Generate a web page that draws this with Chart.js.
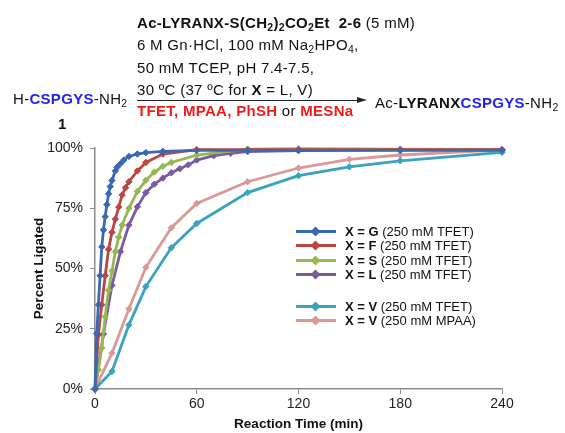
<!DOCTYPE html>
<html>
<head>
<meta charset="utf-8">
<script src="https://cdn.jsdelivr.net/npm/chart.js@4/dist/chart.umd.min.js"></script>
<style>
    html, body { margin: 0; padding: 0; background: #fff; }
    body { width: 565px; height: 433px; position: relative; overflow: hidden; font-family: Arial, "Liberation Sans", sans-serif; color: #111; }
    #chart { position: absolute; left: 0; top: 0; }
    .t { position: absolute; white-space: nowrap; font-size: 15px; line-height: 1; letter-spacing: 0.3px; }
    .t sub { font-size: 10.5px; vertical-align: -3px; line-height: 0; }
    .b { font-weight: bold; }
    .blue { color: #2424f0; font-weight: bold; }
    .red { color: #f01c1c; font-weight: bold; }
    #arrow { position: absolute; left: 137px; top: 100px; width: 222px; height: 1px; background: #222; }
    #arrowhead { position: absolute; left: 357px; top: 97px; width: 0; height: 0;
        border-top: 3.5px solid transparent; border-bottom: 3.5px solid transparent; border-left: 10px solid #222; }
    .leg { position: absolute; left: 296px; font-size: 13px; white-space: nowrap; }
    .leg .ln { position: absolute; left: 0; width: 40px; height: 3px; }
    .leg .mk { position: absolute; left: 16px; width: 7px; height: 7px; transform: rotate(45deg); }
    .leg .tx { position: absolute; left: 49px; line-height: 1; }
</style>
</head>
<body>
<canvas id="chart" width="565" height="433"></canvas>

<!-- reaction scheme -->
<div class="t" style="left:137px; top:15px;"><span class="b">Ac-LYRANX-S(CH<sub>2</sub>)<sub>2</sub>CO<sub>2</sub>Et&nbsp; 2-6</span> (5 mM)</div>
<div class="t" style="left:137px; top:37px;">6 M Gn&middot;HCl, 100 mM Na<sub>2</sub>HPO<sub>4</sub>,</div>
<div class="t" style="left:137px; top:60px;">50 mM TCEP, pH 7.4-7.5,</div>
<div class="t" style="left:137px; top:82px;">30 ºC (37 ºC for <span class="b">X</span> = L, V)</div>
<div id="arrow"></div><div id="arrowhead"></div>
<div class="t" style="left:13px; top:91px;">H-<span class="blue">CSPGYS</span>-NH<sub>2</sub></div>
<div class="t b" style="left:58px; top:116px;">1</div>
<div class="t" style="left:137px; top:103px;"><span class="red">TFET, MPAA, PhSH</span> or <span class="red">MESNa</span></div>
<div class="t" style="left:375px; top:95px;">Ac-<span class="b">LYRANX</span><span class="blue">CSPGYS</span>-NH<sub>2</sub></div>

<div id="legend"></div>

<script>
// reaction time (min) and percent ligated for each thioester
const timeG = [0, 1, 2, 3, 4, 5, 6, 7, 8, 9, 10, 12, 13, 15, 17, 20, 25, 30, 40, 60, 90, 120, 180, 240];
const pctG  = [0, 23, 35, 47, 59, 66, 71.5, 76.5, 81, 84, 86.5, 90.5, 92, 93.5, 95, 96.5, 97.5, 98.1, 98.6, 99, 99, 99, 99, 99];

const timeF = [0, 2, 4, 6, 8, 10, 12, 14, 16, 18, 20, 25, 30, 40, 60, 90, 120, 180, 240];
const pctF  = [0, 22.5, 35, 47, 58, 65, 70.5, 75.5, 80.5, 83.5, 86, 90.5, 94, 97.5, 99.3, 99.3, 99.3, 99.3, 99.3];

const timeS = [0, 2, 4, 6, 8, 10, 12, 14, 16, 20, 25, 30, 35, 40, 45, 60, 90, 120, 180, 240];
const pctS  = [0, 8, 17, 30, 41, 49, 57, 63, 68, 75, 82, 86.6, 90, 92.4, 94, 97, 99.5, 99.7, 99.5, 99.3];

const timeL = [0, 5, 10, 15, 20, 25, 30, 35, 40, 45, 50, 55, 60, 70, 80, 90, 120, 180, 240];
const pctL  = [0, 22.8, 43, 57, 68, 75.6, 81.5, 85, 87.5, 89.7, 91.4, 93, 95, 96.8, 97.8, 98.5, 98.9, 99.2, 99.3];

const timeV = [0, 10, 20, 30, 45, 60, 90, 120, 150, 180, 240];
const pctV_TFET = [0, 7.3, 26.6, 42.5, 58.6, 68.7, 81.5, 88.5, 92.2, 94.7, 98.2];
const pctV_MPAA = [0, 14.9, 33.2, 50.5, 66.9, 77, 86, 91.7, 95.3, 97.1, 99.2];

const xTicks = [0, 60, 120, 180, 240];
const yTicks = [0, 25, 50, 75, 100];

const seriesNames = ['X = G', 'X = F', 'X = S', 'X = L', 'X = V', 'X = V'];
const seriesConds = ['(250 mM TFET)', '(250 mM TFET)', '(250 mM TFET)', '(250 mM TFET)', '(250 mM TFET)', '(250 mM MPAA)'];
const colors = ['#3a68b2', '#bb4643', '#95b853', '#7a5c9e', '#3aa3bd', '#da9896'];

const series = [
    [timeG, pctG], [timeF, pctF], [timeS, pctS], [timeL, pctL],
    [timeV, pctV_TFET], [timeV, pctV_MPAA]
];

function pts(xs, ys) {
    return xs.map((x, i) => ({ x: x, y: ys[i] }));
}

const datasets = series.map((s, i) => ({
    label: seriesNames[i] + ' ' + seriesConds[i],
    data: pts(s[0], s[1]),
    borderColor: colors[i],
    backgroundColor: colors[i],
    borderWidth: 2.8,
    pointStyle: 'rectRot',
    pointRadius: 3.2,
    pointBorderWidth: 1,
    tension: 0,
    clip: false
}));

// legend (html so it keeps the bold/normal mix)
const legendTops = [231, 245, 260, 274, 306, 320];
const leg = document.getElementById('legend');
seriesNames.forEach((n, i) => {
    const d = document.createElement('div');
    d.className = 'leg';
    d.style.top = (legendTops[i] - 7) + 'px';
    d.innerHTML = '<div class="ln" style="top:6px;background:' + colors[i] + '"></div>' +
        '<div class="mk" style="top:4px;background:' + colors[i] + '"></div>' +
        '<div class="tx" style="top:1px"><b>' + n + '</b> ' + seriesConds[i] + '</div>';
    leg.appendChild(d);
});

const axisGray = '#8c8c8c';
const tickFont = { family: 'Arial, "Liberation Sans", sans-serif', size: 14 };

new Chart(document.getElementById('chart'), {
    type: 'line',
    data: { datasets: datasets },
    options: {
        responsive: false,
        animation: false,
        layout: { padding: { left: 0, right: 63, top: 148, bottom: 0 } },
        plugins: { legend: { display: false }, tooltip: { enabled: false } },
        scales: {
            x: {
                type: 'linear',
                min: 0, max: 240,
                afterBuildTicks: s => { s.ticks = xTicks.map(v => ({ value: v })); },
                afterFit: s => { s.height = 44; },
                grid: { display: true, drawOnChartArea: false, drawTicks: true, tickLength: 5, color: axisGray },
                border: { color: axisGray, width: 1.5 },
                ticks: { color: '#222', font: tickFont, padding: 2, maxRotation: 0 },
                title: { display: true, text: 'Reaction Time (min)', color: '#111',
                    font: { family: 'Arial, "Liberation Sans", sans-serif', size: 13.5, weight: 'bold' }, padding: { top: 0, bottom: 1 } }
            },
            y: {
                min: 0, max: 100,
                afterBuildTicks: s => { s.ticks = yTicks.map(v => ({ value: v })); },
                afterFit: s => { s.width = 95; },
                grid: { display: true, drawOnChartArea: false, drawTicks: true, tickLength: 5, color: axisGray },
                border: { color: axisGray, width: 1.5 },
                ticks: { color: '#222', font: tickFont, padding: 7, callback: v => v + '%' },
                title: { display: true, text: 'Percent Ligated', color: '#111',
                    font: { family: 'Arial, "Liberation Sans", sans-serif', size: 13.5, weight: 'bold' }, padding: { top: 31, bottom: 0 } }
            }
        }
    }
});
</script>
</body>
</html>
